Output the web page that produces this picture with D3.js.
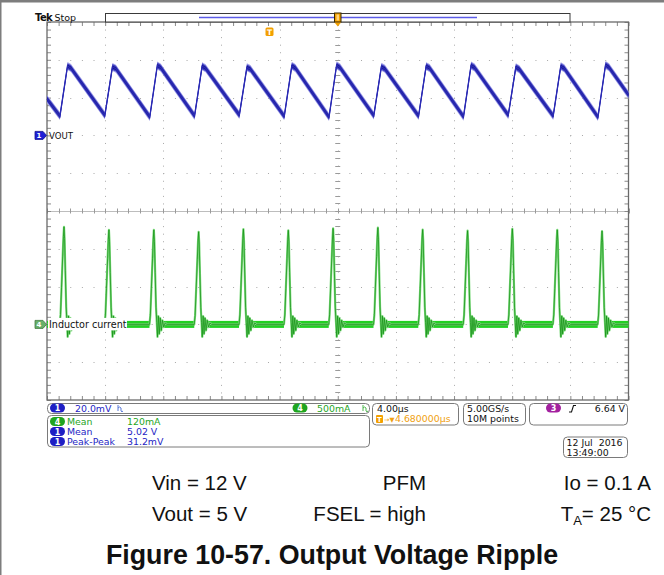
<!DOCTYPE html>
<html>
<head>
<meta charset="utf-8">
<script src="https://cdn.jsdelivr.net/npm/d3@7"></script>
<style>
  html, body { margin: 0; padding: 0; background: #fff; }
  svg { display: block; }
</style>
</head>
<body>
<svg id="scope" width="664" height="575"></svg>
<script>
// ---------------- acquisition settings ----------------
const timePerDiv = 4;          // µs / div
const horizDivs = 10;
const vertDivs = 10;
const ch1PerDiv = 20;          // mV / div
const ch1Position = 2.0;       // reference marker, divisions above centre
const ch4PerDiv = 500;         // mA / div
const ch4Position = -3.0;

// ---------------- channel 1: VOUT ripple (mV from reference) ----------------
const voutTime = [0,
  0.89, 1.41, 1.65,   3.98, 4.50, 4.74,   7.07, 7.59, 7.83,
  10.15, 10.67, 10.91, 13.23, 13.75, 13.99, 16.32, 16.84, 17.08,
  19.40, 19.92, 20.16, 22.48, 23.00, 23.24, 25.56, 26.08, 26.32,
  28.65, 29.17, 29.41, 31.73, 32.25, 32.49, 34.82, 35.34, 35.58,
  37.90, 38.42, 38.66,
  40];
const voutMv = [19.3,
  10.2, 36.7, 35.6,   10.6, 36.2, 35.3,   9.8, 37.0, 35.8,
  10.3, 36.6, 35.5,   10.8, 36.0, 35.1,   10.1, 36.8, 35.7,
  9.7, 37.1, 35.9,    10.5, 36.3, 35.2,   10.2, 36.6, 35.6,
  9.9, 37.0, 35.9,    10.7, 36.1, 35.0,   10.3, 36.6, 35.5,
  9.7, 37.3, 36.0,
  21.4];

// ---------------- channel 4: inductor current pulses ----------------
const pulseTime = [1.17, 4.26, 7.35, 10.43, 13.51, 16.60, 19.68, 22.76, 25.84, 28.93, 32.01, 35.10, 38.18]; // µs
const pulsePeak = [1290, 1250, 1250, 1225, 1260, 1245, 1270, 1280, 1255, 1240, 1265, 1250, 1235];           // mA
// pulse outline: [offset µs, fraction of peak]
const pulseShape = [[-0.30, 0], [-0.24, 0.10], [-0.17, 0.38], [-0.09, 0.70], [-0.04, 0.90], [0, 1],
                    [0.04, 0.88], [0.09, 0.55], [0.15, 0.18], [0.20, 0.02]];
// ringing after each pulse: [offset µs, mA]
const ringShape = [[0.25, -165], [0.31, 110], [0.37, -125], [0.44, 85], [0.51, -80], [0.59, 55],
                   [0.68, -35], [0.78, 20], [0.90, 0]];

// ---------------- readouts ----------------
const measureRows = [
  { ch: "4", name: "Mean", value: "120mA" },
  { ch: "1", name: "Mean", value: "5.02 V" },
  { ch: "1", name: "Peak-Peak", value: "31.2mV" }
];
const chColor = { "1": "#1e1ec4", "3": "#a3219f", "4": "#1fa51f" };
const captionRow1 = ["Vin = 12 V", "PFM", "Io = 0.1 A"];
const captionRow2 = ["Vout = 5 V", "FSEL = high"];
const title = "Figure 10-57. Output Voltage Ripple";

// ---------------- scales ----------------
const svg = d3.select("#scope");
const F = { x0: 47, x1: 628.5, y0: 22, y1: 400 };
const x = d3.scaleLinear().domain([0, horizDivs * timePerDiv]).range([F.x0, F.x1]);
const xDiv = d3.scaleLinear().domain([-horizDivs / 2, horizDivs / 2]).range([F.x0, F.x1]);
const yDiv = d3.scaleLinear().domain([-vertDivs / 2, vertDivs / 2]).range([F.y1, F.y0]);
const yV = d3.scaleLinear()
  .domain([(-vertDivs / 2 - ch1Position) * ch1PerDiv, (vertDivs / 2 - ch1Position) * ch1PerDiv])
  .range([F.y1, F.y0]);
const yI = d3.scaleLinear()
  .domain([(-vertDivs / 2 - ch4Position) * ch4PerDiv, (vertDivs / 2 - ch4Position) * ch4PerDiv])
  .range([F.y1, F.y0]);

// ---------------- outer window border ----------------
svg.append("rect").attr("x", 0).attr("y", 0).attr("width", 664).attr("height", 2.5).attr("fill", "#7d7d7d");
svg.append("rect").attr("x", 0).attr("y", 0).attr("width", 1.5).attr("height", 575).attr("fill", "#7d7d7d");

// ---------------- graticule ----------------
const grid = svg.append("g");
const px = v => Math.round(v) + 0.5;
const minorX = d3.range(-horizDivs / 2, horizDivs / 2 + 0.001, 0.2);
const minorY = d3.range(-vertDivs / 2, vertDivs / 2 + 0.001, 0.2);
const majorX = d3.range(-4, 5).filter(k => k !== 0);
const majorY = d3.range(-4, 5).filter(k => k !== 0);
const stepX = (xDiv(1) - xDiv(0)) / 5;
const stepY = (yDiv(0) - yDiv(1)) / 5;

grid.selectAll(".vdot").data(majorX).join("line")
  .attr("x1", d => px(xDiv(d))).attr("x2", d => px(xDiv(d)))
  .attr("y1", F.y0).attr("y2", F.y1)
  .attr("stroke", "#a8a8a8").attr("stroke-width", 1)
  .attr("stroke-dasharray", `1 ${stepY - 1}`);
grid.selectAll(".hdot").data(majorY).join("line")
  .attr("y1", d => px(yDiv(d))).attr("y2", d => px(yDiv(d)))
  .attr("x1", F.x0).attr("x2", F.x1)
  .attr("stroke", "#a8a8a8").attr("stroke-width", 1)
  .attr("stroke-dasharray", `1 ${stepX - 1}`);

// centre crosshair
grid.append("line").attr("x1", F.x0).attr("x2", F.x1).attr("y1", px(yDiv(0))).attr("y2", px(yDiv(0)))
  .attr("stroke", "#bdbdbd").attr("stroke-width", 1);
grid.append("line").attr("y1", F.y0).attr("y2", F.y1).attr("x1", px(xDiv(0))).attr("x2", px(xDiv(0)))
  .attr("stroke", "#a8a8a8").attr("stroke-width", 1).attr("stroke-dasharray", `1 ${stepY - 1}`);
grid.selectAll(".cx").data(minorX).join("line")
  .attr("x1", d => px(xDiv(d))).attr("x2", d => px(xDiv(d)))
  .attr("y1", yDiv(0) - 2.5).attr("y2", yDiv(0) + 2.5).attr("stroke", "#9a9a9a");
grid.selectAll(".cy").data(minorY).join("line")
  .attr("y1", d => px(yDiv(d))).attr("y2", d => px(yDiv(d)))
  .attr("x1", xDiv(0) - 2.5).attr("x2", xDiv(0) + 2.5).attr("stroke", "#9a9a9a");

// edge ticks via axes
const tickFmt = () => "";
grid.append("g").attr("transform", `translate(0,${F.y0})`)
  .call(d3.axisTop(xDiv).tickValues(minorX).tickSize(-4).tickFormat(tickFmt));
grid.append("g").attr("transform", `translate(0,${F.y1})`)
  .call(d3.axisBottom(xDiv).tickValues(minorX).tickSize(-4).tickFormat(tickFmt));
grid.append("g").attr("transform", `translate(${F.x0},0)`)
  .call(d3.axisLeft(yDiv).tickValues(minorY).tickSize(-4).tickFormat(tickFmt));
grid.append("g").attr("transform", `translate(${F.x1},0)`)
  .call(d3.axisRight(yDiv).tickValues(minorY).tickSize(-4).tickFormat(tickFmt));
grid.selectAll(".domain").remove();
grid.selectAll(".tick line").attr("stroke", "#8a8a8a");

grid.append("rect").attr("x", F.x0).attr("y", F.y0)
  .attr("width", F.x1 - F.x0).attr("height", F.y1 - F.y0)
  .attr("fill", "none").attr("stroke", "#6a6a6a").attr("stroke-width", 1.3);

// ---------------- channel 4 trace ----------------
const ipts = [[0, 0]];
pulseTime.forEach((t, i) => {
  pulseShape.forEach(([dt, f]) => ipts.push([t + dt, f * pulsePeak[i]]));
  ringShape.forEach(([dt, v]) => ipts.push([t + dt, v]));
});
ipts.push([horizDivs * timePerDiv, 0]);

const bandSegs = [[0, pulseTime[0] - 0.30]];
pulseTime.forEach((t, i) => {
  const end = i + 1 < pulseTime.length ? pulseTime[i + 1] - 0.30 : horizDivs * timePerDiv;
  bandSegs.push([t + 0.20, end]);
});
const band = svg.append("g");
band.selectAll("rect.b").data(bandSegs).join("rect")
  .attr("x", d => x(d[0])).attr("width", d => x(d[1]) - x(d[0]))
  .attr("y", yI(0) - 3.5).attr("height", 7).attr("fill", "#22d022");
band.selectAll("rect.c").data(bandSegs).join("rect")
  .attr("x", d => x(d[0])).attr("width", d => x(d[1]) - x(d[0]))
  .attr("y", yI(0) - 1.2).attr("height", 2.4).attr("fill", "#079a07");

const iLine = d3.line().x(d => x(d[0])).y(d => yI(d[1]));
svg.append("path").datum(ipts).attr("d", iLine)
  .attr("fill", "none").attr("stroke", "#7ad87a").attr("stroke-width", 2.2).attr("stroke-linejoin", "round");
svg.append("path").datum(ipts).attr("d", iLine)
  .attr("fill", "none").attr("stroke", "#128f12").attr("stroke-width", 0.9).attr("opacity", 0.8);

// ---------------- channel 1 trace ----------------
const vpts = voutTime.map((t, i) => [t, voutMv[i]]);
const vArea = h => d3.area().x(d => x(d[0])).y0(d => yV(d[1]) - h).y1(d => yV(d[1]) + h);
svg.append("path").datum(vpts).attr("d", vArea(4.0)).attr("fill", "#a2a2e8");
svg.append("path").datum(vpts).attr("d", vArea(2.9)).attr("fill", "#4040c2");
svg.append("path").datum(vpts).attr("d", vArea(1.5)).attr("fill", "#16168f");
svg.append("path").datum(vpts)
  .attr("d", d3.line().x(d => x(d[0])).y(d => yV(d[1])))
  .attr("fill", "none").attr("stroke", "#2a2ab4").attr("stroke-width", 1.3);

// ---------------- channel markers & labels ----------------
function chMarker(y, fill, stroke, label) {
  const g = svg.append("g");
  g.append("path")
    .attr("d", `M35,${y - 4} L43,${y - 4} L46.5,${y} L43,${y + 4} L35,${y + 4} Z`)
    .attr("fill", fill).attr("stroke", stroke).attr("stroke-width", 0.8);
  g.append("text").attr("x", 39).attr("y", y + 2.7).attr("text-anchor", "middle")
    .attr("font-family", "DejaVu Sans").attr("font-size", 7).attr("font-weight", "bold")
    .attr("fill", "#fff").text(label);
}
chMarker(yV(0), "#1f1fd6", "#14148a", "1");
chMarker(yI(0), "#69b069", "#3f7a3f", "4");

svg.append("text").attr("x", 49).attr("y", yV(0) + 3.3)
  .attr("font-family", "DejaVu Sans").attr("font-size", 8.6).attr("fill", "#111").text("VOUT");
svg.append("rect").attr("x", 48).attr("y", yI(0) - 6.5).attr("width", 79).attr("height", 12.5).attr("fill", "#fff");
svg.append("text").attr("x", 49).attr("y", yI(0) + 4)
  .attr("font-family", "DejaVu Sans").attr("font-size", 9.6).attr("fill", "#111").text("Inductor current");

// ---------------- top status bar ----------------
svg.append("text").attr("x", 35).attr("y", 20.5)
  .attr("font-family", "DejaVu Sans").attr("font-size", 10).attr("font-weight", "bold")
  .attr("letter-spacing", -0.6).attr("fill", "#111").text("Tek");
svg.append("text").attr("x", 54.5).attr("y", 20.5)
  .attr("font-family", "DejaVu Sans").attr("font-size", 9.5).attr("fill", "#111").text("Stop");
svg.append("rect").attr("x", 105.5).attr("y", 13.5).attr("width", 464.5).attr("height", 8.5)
  .attr("fill", "#fff").attr("stroke", "#3a3a3a").attr("stroke-width", 1);
svg.append("line").attr("x1", 199).attr("x2", 477).attr("y1", 17.5).attr("y2", 17.5)
  .attr("stroke", "#5c5ce8").attr("stroke-width", 1.3);
svg.append("rect").attr("x", 334.5).attr("y", 13).attr("width", 6.5).attr("height", 9)
  .attr("fill", "#f3a000").attr("stroke", "#3a2a00").attr("stroke-width", 1);
svg.append("rect").attr("x", 336.5).attr("y", 14.5).attr("width", 2.5).attr("height", 6).attr("fill", "#ffd37a");
svg.append("path").attr("d", "M334.5,22.5 L341,22.5 L337.75,26.5 Z").attr("fill", "#f3a000");
// trigger point marker
svg.append("rect").attr("x", 265.5).attr("y", 27.5).attr("width", 8).attr("height", 8.5).attr("rx", 1.5)
  .attr("fill", "#f3a000");
svg.append("text").attr("x", 269.5).attr("y", 34.5).attr("text-anchor", "middle")
  .attr("font-family", "DejaVu Sans").attr("font-size", 7.5).attr("font-weight", "bold")
  .attr("fill", "#fff").text("T");

// ---------------- readout panel ----------------
const P = svg.append("g").attr("font-family", "DejaVu Sans").attr("font-size", 9.4);
function box(x0, y0, w, h) {
  P.append("rect").attr("x", x0 + 0.5).attr("y", y0 + 0.5).attr("width", w).attr("height", h)
    .attr("rx", 4).attr("fill", "#fff").attr("stroke", "#7a7a7a").attr("stroke-width", 1);
}
function badge(cx, cy, ch) {
  P.append("rect").attr("x", cx - 7.5).attr("y", cy - 4.5).attr("width", 15).attr("height", 9)
    .attr("rx", 4.5).attr("fill", chColor[ch]);
  P.append("text").attr("x", cx).attr("y", cy + 3.2).attr("text-anchor", "middle")
    .attr("font-size", 8).attr("font-weight", "bold").attr("fill", "#fff").text(ch);
}
function bwIcon(x0, y0, color) {
  P.append("path").attr("d", `M${x0},${y0} v6 M${x0},${y0 + 3} q1.5,-2 3,0 v3 M${x0 + 3},${y0 + 6} q1,1.5 2,0`)
    .attr("fill", "none").attr("stroke", color).attr("stroke-width", 1);
}

box(47, 403, 322, 10);
badge(57.5, 408, "1");
P.append("text").attr("x", 75).attr("y", 411.5).attr("fill", chColor["1"]).text(`${ch1PerDiv.toFixed(1)}mV`);
bwIcon(118, 405, "#5a7ad8");
badge(300, 408, "4");
P.append("text").attr("x", 317).attr("y", 411.5).attr("fill", chColor["4"]).text(`${ch4PerDiv}mA`);
bwIcon(363, 405, "#4fb84f");

box(47, 415, 322, 31.5);
measureRows.forEach((r, i) => {
  const y = 421.5 + i * 10;
  badge(57.5, y, r.ch);
  P.append("text").attr("x", 67).attr("y", y + 3.5).attr("fill", chColor[r.ch]).text(r.name);
  P.append("text").attr("x", 127).attr("y", y + 3.5).attr("fill", chColor[r.ch]).text(r.value);
});

box(372, 403, 86, 21.5);
P.append("text").attr("x", 377).attr("y", 412).attr("fill", "#111").text(`${timePerDiv.toFixed(2)}µs`);
P.append("rect").attr("x", 376).attr("y", 415).attr("width", 7).attr("height", 8).attr("rx", 1).attr("fill", "#f3a000");
P.append("text").attr("x", 379.5).attr("y", 422).attr("text-anchor", "middle").attr("font-size", 7)
  .attr("font-weight", "bold").attr("fill", "#fff").text("T");
P.append("text").attr("x", 384).attr("y", 422).attr("fill", "#f0a010")
  .call(t => t.append("tspan").attr("font-size", 6.5).text("→▼"))
  .call(t => t.append("tspan").attr("dx", 0.5).text("4.680000µs"));

box(463, 403, 62, 21.5);
P.append("text").attr("x", 467).attr("y", 412).attr("fill", "#111").text("5.00GS/s");
P.append("text").attr("x", 467).attr("y", 422).attr("fill", "#111").text("10M points");

box(529, 403, 98, 21.5);
badge(553.5, 408, "3");
P.append("path").attr("d", "M569,412 h2.5 l2,-6.5 h2.5").attr("fill", "none").attr("stroke", "#111").attr("stroke-width", 1.1);
P.append("text").attr("x", 625).attr("y", 412).attr("text-anchor", "end").attr("fill", "#111").text("6.64 V");

box(563, 436.5, 64, 20.5);
P.append("text").attr("x", 566.5).attr("y", 446).attr("fill", "#111").attr("xml:space", "preserve").text("12 Jul  2016");
P.append("text").attr("x", 566.5).attr("y", 456).attr("fill", "#111").text("13:49:00");

// ---------------- caption ----------------
const C = svg.append("g").attr("font-family", "Liberation Sans, Arial, sans-serif").attr("fill", "#111");
C.append("text").attr("x", 152).attr("y", 490).attr("font-size", 20.5).text(captionRow1[0]);
C.append("text").attr("x", 426).attr("y", 490).attr("font-size", 20.5).attr("text-anchor", "end").text(captionRow1[1]);
C.append("text").attr("x", 651).attr("y", 490).attr("font-size", 20.5).attr("text-anchor", "end").text(captionRow1[2]);
C.append("text").attr("x", 152).attr("y", 521).attr("font-size", 20.5).text(captionRow2[0]);
C.append("text").attr("x", 426).attr("y", 521).attr("font-size", 20.5).attr("text-anchor", "end").text(captionRow2[1]);
C.append("text").attr("x", 651).attr("y", 521).attr("font-size", 20.5).attr("text-anchor", "end")
  .call(t => t.append("tspan").text("T"))
  .call(t => t.append("tspan").attr("font-size", 13).attr("dy", 4).text("A"))
  .call(t => t.append("tspan").attr("dy", -4).text("= 25 °C"));
C.append("text").attr("x", 332).attr("y", 564).attr("font-size", 26.8).attr("font-weight", "bold")
  .attr("text-anchor", "middle").text(title);
</script>
</body>
</html>
